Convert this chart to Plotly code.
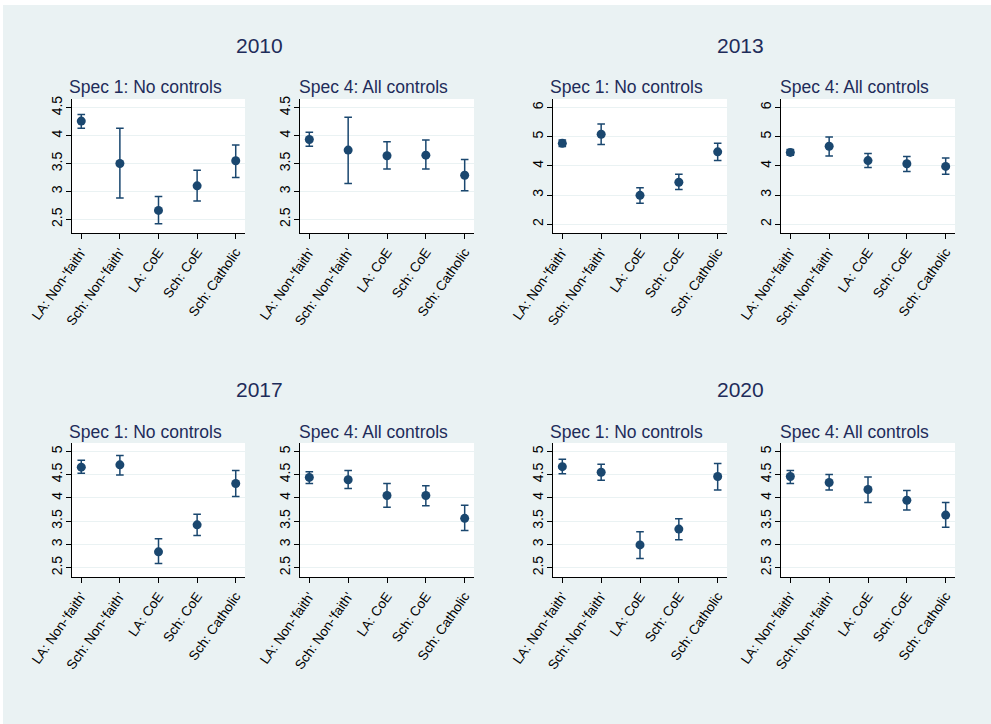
import plotly.graph_objects as go

W, H = 991, 724

categories = ["LA: Non-'faith'", "Sch: Non-'faith'", "LA: CoE", "Sch: CoE", "Sch: Catholic"]
years = ["2010", "2013", "2017", "2020"]
specs = ["Spec 1: No controls", "Spec 4: All controls"]

# Point estimates and 95% confidence bounds, per year and specification
est_2010_s1 = [4.26, 3.50, 2.66, 3.10, 3.55]
lo_2010_s1 = [4.13, 2.88, 2.42, 2.83, 3.25]
hi_2010_s1 = [4.38, 4.13, 2.91, 3.38, 3.83]
est_2010_s4 = [3.93, 3.74, 3.64, 3.65, 3.29]
lo_2010_s4 = [3.81, 3.14, 3.40, 3.40, 3.01]
hi_2010_s4 = [4.06, 4.33, 3.89, 3.92, 3.57]

est_2013_s1 = [4.77, 5.08, 2.99, 3.44, 4.48]
lo_2013_s1 = [4.66, 4.73, 2.72, 3.19, 4.18]
hi_2013_s1 = [4.88, 5.43, 3.25, 3.71, 4.77]
est_2013_s4 = [4.46, 4.67, 4.18, 4.07, 3.98]
lo_2013_s4 = [4.36, 4.34, 3.94, 3.81, 3.71]
hi_2013_s4 = [4.56, 4.99, 4.42, 4.32, 4.27]

est_2017_s1 = [4.66, 4.71, 2.84, 3.42, 4.31]
lo_2017_s1 = [4.53, 4.49, 2.59, 3.19, 4.03]
hi_2017_s1 = [4.81, 4.91, 3.12, 3.65, 4.59]
est_2017_s4 = [4.44, 4.39, 4.05, 4.05, 3.56]
lo_2017_s4 = [4.31, 4.20, 3.80, 3.83, 3.30]
hi_2017_s4 = [4.56, 4.59, 4.31, 4.26, 3.84]

est_2020_s1 = [4.67, 4.55, 2.99, 3.33, 4.46]
lo_2020_s1 = [4.52, 4.38, 2.70, 3.10, 4.17]
hi_2020_s1 = [4.83, 4.72, 3.27, 3.55, 4.74]
est_2020_s4 = [4.46, 4.33, 4.18, 3.95, 3.63]
lo_2020_s4 = [4.31, 4.17, 3.90, 3.74, 3.37]
hi_2020_s4 = [4.59, 4.50, 4.45, 4.16, 3.90]

y_ticks_2010 = [2.5, 3, 3.5, 4, 4.5]
y_ticks_2013 = [2, 3, 4, 5, 6]
y_ticks_late = [2.5, 3, 3.5, 4, 4.5, 5]

panels = [
    ("2010", 0, est_2010_s1, lo_2010_s1, hi_2010_s1, y_ticks_2010, [2.255, 4.656]),
    ("2010", 1, est_2010_s4, lo_2010_s4, hi_2010_s4, y_ticks_2010, [2.255, 4.656]),
    ("2013", 0, est_2013_s1, lo_2013_s1, hi_2013_s1, y_ticks_2013, [1.702, 6.287]),
    ("2013", 1, est_2013_s4, lo_2013_s4, hi_2013_s4, y_ticks_2013, [1.702, 6.287]),
    ("2017", 0, est_2017_s1, lo_2017_s1, hi_2017_s1, y_ticks_late, [2.30, 5.179]),
    ("2017", 1, est_2017_s4, lo_2017_s4, hi_2017_s4, y_ticks_late, [2.30, 5.179]),
    ("2020", 0, est_2020_s1, lo_2020_s1, hi_2020_s1, y_ticks_late, [2.30, 5.179]),
    ("2020", 1, est_2020_s4, lo_2020_s4, hi_2020_s4, y_ticks_late, [2.30, 5.179]),
]

# Pixel boxes of the eight plot regions (left, right) and (top, bottom)
col_px = [(72, 245), (300, 474), (553, 727), (781, 955)]
row_px = [(99, 233), (443, 577)]
sub_cx = [145.5, 373.5, 626, 854.5]
sub_cy = [86.5, 431.5]
year_pos = [(259, 45.5), (740, 45.5), (259, 389.5), (740, 389.5)]

NAVY = "#1a476f"
TITLE = "#1e2c5a"
BG = "#eaf2f3"
FONT = "Liberation Sans, Arial, sans-serif"

fig = go.Figure()
annotations = []

for i, (yr, s, est, lo, hi, yt, yr_range) in enumerate(panels):
    year_idx = years.index(yr)
    row = year_idx // 2
    col = (year_idx % 2) * 2 + s
    n = i + 1
    xa = "x" if n == 1 else f"x{n}"
    ya = "y" if n == 1 else f"y{n}"
    xkey = "xaxis" if n == 1 else f"xaxis{n}"
    ykey = "yaxis" if n == 1 else f"yaxis{n}"
    x0, x1 = col_px[col]
    t0, t1 = row_px[row]

    fig.add_trace(go.Scatter(
        x=list(range(len(categories))), y=est,
        mode="markers",
        marker=dict(color=NAVY, size=9),
        error_y=dict(type="data", symmetric=False,
                     array=[h - e for h, e in zip(hi, est)],
                     arrayminus=[e - l for e, l in zip(est, lo)],
                     color=NAVY, thickness=1.5, width=3.8),
        xaxis=xa, yaxis=ya, showlegend=False, hoverinfo="skip",
    ))

    fig.layout[xkey] = dict(
        domain=[x0 / W, x1 / W], anchor=ya, automargin=False,
        range=[-0.24, 4.24], tickmode="array",
        tickvals=list(range(len(categories))), ticktext=categories,
        tickangle=-55, ticks="outside", ticklen=5, tickcolor="black",
        showline=True, linecolor="black", linewidth=1,
        showgrid=False, zeroline=False, fixedrange=True,
        tickfont=dict(family=FONT, size=13.5, color="black"),
    )
    fig.layout[ykey] = dict(
        domain=[1 - t1 / H, 1 - t0 / H], anchor=xa, automargin=False,
        range=yr_range, tickmode="array", tickvals=yt,
        ticktext=[f"{v:g}" for v in yt],
        tickangle=-90, ticks="outside", ticklen=5, tickcolor="black",
        ticklabelstandoff=-2,
        showline=True, linecolor="black", linewidth=1,
        showgrid=True, gridcolor=BG, gridwidth=1.2, zeroline=False,
        fixedrange=True,
        tickfont=dict(family=FONT, size=14, color="black"),
    )

    annotations.append(dict(
        text=specs[s], x=sub_cx[col] / W, y=1 - sub_cy[row] / H,
        xref="paper", yref="paper", xanchor="center", yanchor="middle",
        showarrow=False, font=dict(family=FONT, size=17.5, color=TITLE),
    ))

for yr, (cx, cy) in zip(years, year_pos):
    annotations.append(dict(
        text=yr, x=cx / W, y=1 - cy / H,
        xref="paper", yref="paper", xanchor="center", yanchor="middle",
        showarrow=False, font=dict(family=FONT, size=21, color=TITLE),
    ))

# Light graph region behind everything, white plot regions on top of it
shapes = [dict(type="rect", xref="paper", yref="paper",
               x0=3 / W, x1=1, y0=0, y1=1 - 5 / H,
               fillcolor=BG, line=dict(width=0), layer="below")]
for c in range(4):
    for r in range(2):
        x0, x1 = col_px[c]
        t0, t1 = row_px[r]
        shapes.append(dict(type="rect", xref="paper", yref="paper",
                           x0=x0 / W, x1=x1 / W, y0=1 - t1 / H, y1=1 - t0 / H,
                           fillcolor="white", line=dict(width=0), layer="below"))

fig.update_layout(
    width=W, height=H,
    margin=dict(l=0, r=0, t=0, b=0, autoexpand=False),
    paper_bgcolor="white", plot_bgcolor="rgba(0,0,0,0)",
    annotations=annotations, shapes=shapes,
    font=dict(family=FONT),
)

fig.write_html("out.html", config={"displayModeBar": False})
